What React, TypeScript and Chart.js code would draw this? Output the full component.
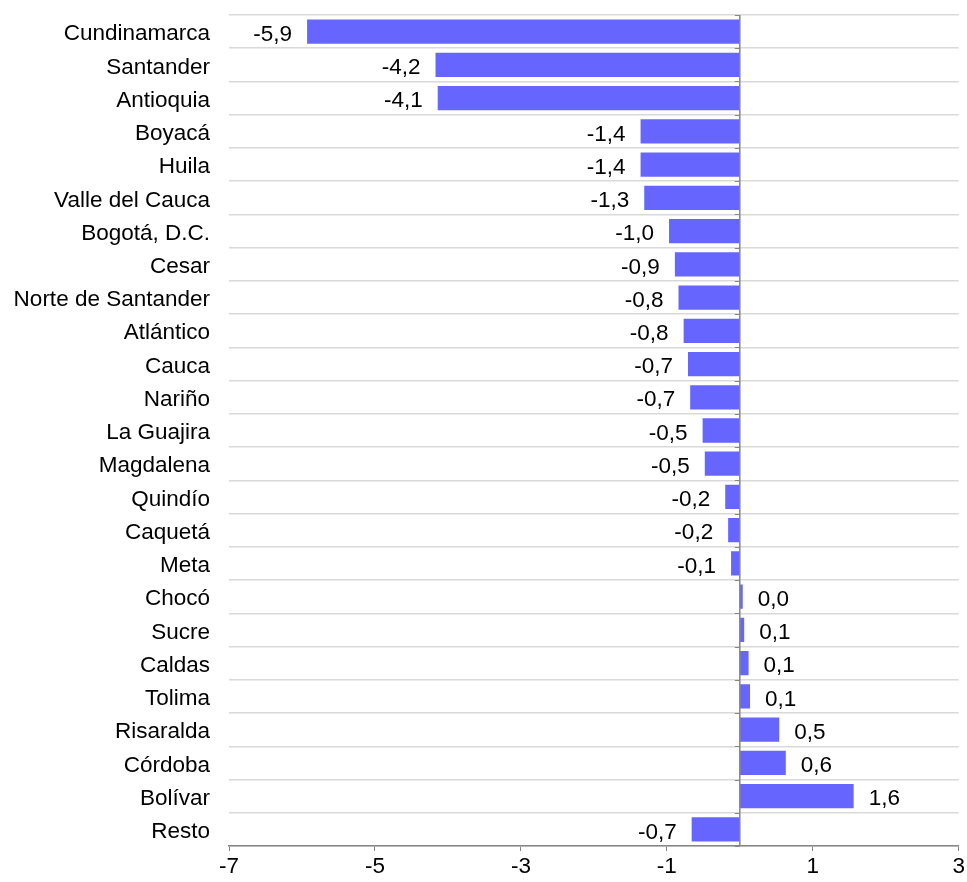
import React, { useEffect, useRef } from "react";
import { Chart, registerables } from "chart.js";

Chart.register(...registerables);

const categories = [
  "Cundinamarca", "Santander", "Antioquia", "Boyacá", "Huila", "Valle del Cauca",
  "Bogotá, D.C.", "Cesar", "Norte de Santander", "Atlántico", "Cauca", "Nariño",
  "La Guajira", "Magdalena", "Quindío", "Caquetá", "Meta", "Chocó", "Sucre",
  "Caldas", "Tolima", "Risaralda", "Córdoba", "Bolívar", "Resto",
];

const values = [
  -5.93, -4.17, -4.14, -1.36, -1.36, -1.31,
  -0.97, -0.89, -0.84, -0.77, -0.71, -0.68,
  -0.51, -0.48, -0.2, -0.16, -0.12, 0.04, 0.06,
  0.12, 0.14, 0.54, 0.63, 1.56, -0.66,
];

const xMin = -7;
const xMax = 3;
const xStep = 2;

const FONT = "'Liberation Sans', Arial, sans-serif";
const FONT_SIZE = 22.5;

const fmt = (v: number) => v.toFixed(1).replace(".", ",");

const zeroLinePlugin = {
  id: "zeroLine",
  afterDatasetsDraw(chart: any) {
    const { ctx, chartArea, scales } = chart;
    const x0 = scales.x.getPixelForValue(0);
    const yScale = scales.y;
    ctx.save();
    ctx.strokeStyle = "#868686";
    ctx.lineWidth = 1.5;
    ctx.beginPath();
    ctx.moveTo(x0, chartArea.top);
    ctx.lineTo(x0, chartArea.bottom);
    ctx.stroke();
    ctx.lineWidth = 1;
    const n = categories.length;
    for (let i = 0; i <= n; i++) {
      const y = Math.round(yScale.getPixelForValue(i - 0.5)) + 0.5;
      ctx.beginPath();
      ctx.moveTo(x0 - 5, y);
      ctx.lineTo(x0, y);
      ctx.stroke();
    }
    ctx.restore();
  },
};

const labelPlugin = {
  id: "valueLabels",
  afterDatasetsDraw(chart: any) {
    const { ctx } = chart;
    const meta = chart.getDatasetMeta(0);
    ctx.save();
    ctx.font = `${FONT_SIZE}px ${FONT}`;
    ctx.fillStyle = "#000";
    ctx.textBaseline = "middle";
    meta.data.forEach((bar: any, i: number) => {
      const v = values[i];
      const txt = fmt(v);
      if (v < 0) {
        ctx.textAlign = "right";
        ctx.fillText(txt, bar.x - 15, bar.y + 3);
      } else {
        ctx.textAlign = "left";
        ctx.fillText(txt, bar.x + 15, bar.y + 3);
      }
    });
    ctx.restore();
  },
};

export default function App() {
  const canvasRef = useRef<HTMLCanvasElement | null>(null);

  useEffect(() => {
    if (!canvasRef.current) return;
    const chart = new Chart(canvasRef.current, {
      type: "bar",
      data: {
        labels: categories,
        datasets: [
          {
            data: values,
            backgroundColor: "#6666FF",
            borderWidth: 0,
            barPercentage: 0.73,
            categoryPercentage: 1,
          },
        ],
      },
      options: {
        indexAxis: "y",
        animation: false,
        responsive: true,
        maintainAspectRatio: false,
        layout: { padding: { top: 15, right: 7, bottom: 0, left: 0 } },
        plugins: {
          legend: { display: false },
          tooltip: { enabled: false },
        },
        scales: {
          x: {
            type: "linear",
            min: xMin,
            max: xMax,
            ticks: {
              stepSize: xStep,
              color: "#000",
              font: { family: FONT, size: FONT_SIZE },
              padding: 2,
              callback: (v: any) => String(v),
            },
            grid: {
              drawOnChartArea: false,
              drawTicks: true,
              tickLength: 5,
              color: "#868686",
            },
            border: { display: true, color: "#868686", width: 1.5 },
          },
          y: {
            type: "category",
            afterFit: (scale: any) => {
              scale.width = 229;
              scale.paddingTop = 0;
              scale.paddingBottom = 0;
            },
            ticks: {
              color: "#000",
              font: { family: FONT, size: FONT_SIZE },
              padding: 19,
              labelOffset: 2.5,
              autoSkip: false,
            },
            grid: {
              offset: true,
              drawTicks: false,
              color: "#d9d9d9",
              lineWidth: 1.5,
            },
            border: { display: false },
          },
        },
      },
      plugins: [zeroLinePlugin, labelPlugin],
    });
    return () => chart.destroy();
  }, []);

  return (
    <div style={{ position: "absolute", left: 0, top: 0, width: 967, height: 882 }}>
      <canvas ref={canvasRef} />
    </div>
  );
}
